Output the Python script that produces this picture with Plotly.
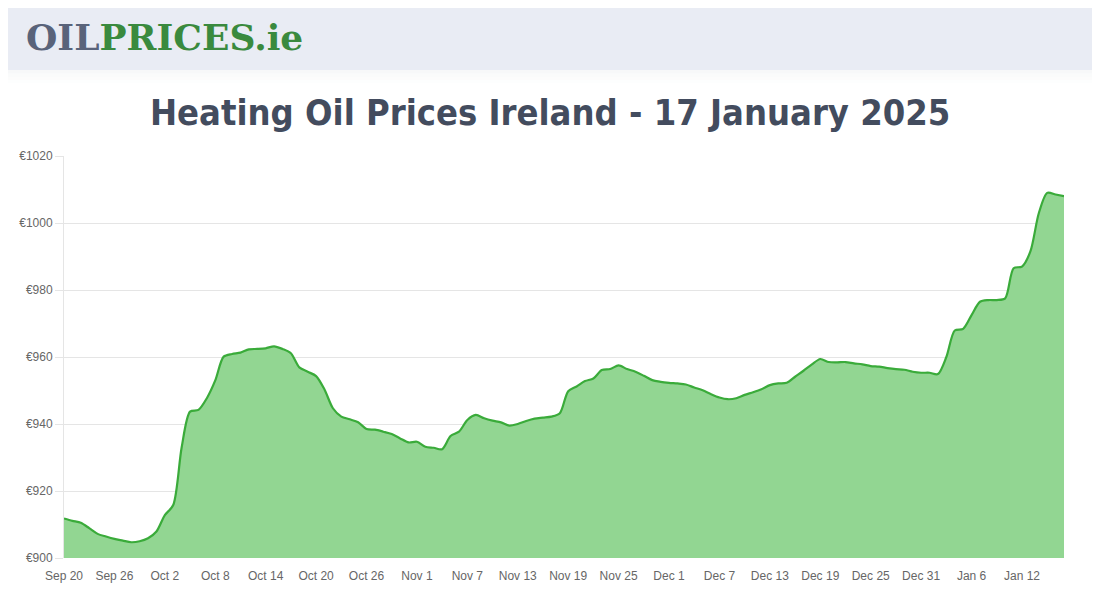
import pandas as pd
import plotly.graph_objects as go

# daily heating oil price (1000 litres), 20 Sep 2024 - 17 Jan 2025
prices = [
    911.8, 911.1, 910.5, 908.9, 907.2, 906.4, 905.7, 905.2, 904.7, 905.0,
    905.9, 907.9, 912.8, 915.8, 933.0, 943.7, 944.2, 947.7, 953.0, 960.1,
    960.9, 961.3, 962.3, 962.4, 962.6, 963.2, 962.4, 961.1, 956.9, 955.6,
    954.3, 950.3, 944.7, 942.2, 941.4, 940.5, 938.5, 938.3, 937.7, 937.0,
    935.7, 934.5, 934.7, 933.2, 932.9, 932.5, 936.4, 937.7, 941.2, 942.7,
    941.7, 941.0, 940.5, 939.5, 940.0, 940.9, 941.6, 941.9, 942.2, 943.2,
    949.8, 951.2, 952.8, 953.6, 956.1, 956.4, 957.5, 956.4, 955.6, 954.4,
    953.1, 952.6, 952.3, 952.1, 951.8, 950.9, 950.1, 948.9, 947.9, 947.4,
    947.7, 948.7, 949.5, 950.4, 951.6, 952.1, 952.3, 954.1, 955.9, 957.8,
    959.4, 958.5, 958.4, 958.5, 958.1, 957.8, 957.3, 957.1, 956.7, 956.4,
    956.2, 955.6, 955.3, 955.3, 954.9, 960.0, 967.9, 968.4, 972.5, 976.5,
    977.0, 977.0, 977.5, 986.5, 987.0, 991.5, 1002.9, 1009.0, 1008.5, 1008.0,
]
dates = pd.date_range("2024-09-20", periods=len(prices), freq="D")

title_text = "Heating Oil Prices Ireland - 17 January 2025"

fig = go.Figure(go.Scatter(
    x=dates, y=prices,
    mode="lines",
    line=dict(color="#3aab3a", width=2.2, shape="spline", smoothing=0.8),
    fill="tozeroy",
    fillcolor="#92d692",
    hoverinfo="x+y",
))

# header band + soft shadow under it
fig.add_shape(type="rect", xref="paper", yref="paper",
              x0=-0.07, x1=1.06, y0=1.2139, y1=1.40,
              fillcolor="#e9ecf4", line_width=0, layer="below")
for i, op in enumerate([0.04, 0.025, 0.015, 0.007]):
    fig.add_shape(type="rect", xref="paper", yref="paper",
                  x0=-0.07, x1=1.06, y0=1.2139 - (i + 1) * 0.008, y1=1.2139 - i * 0.008,
                  fillcolor="rgba(60,70,90,%s)" % op, line_width=0, layer="below")

fig.add_annotation(
    text="<b><span style='color:#59637a'>OIL</span><span style='color:#3a8a3e'>PRICES.ie</span></b>",
    xref="paper", yref="paper", x=-0.040, y=1.297,
    xanchor="left", yanchor="middle", showarrow=False,
    font=dict(family="'DejaVu Serif', serif", size=36),
)
fig.add_annotation(
    text="<b>" + title_text + "</b>",
    xref="paper", yref="paper", x=0.486, y=1.107,
    xanchor="center", yanchor="middle", showarrow=False,
    font=dict(family="'DejaVu Sans Condensed', 'Liberation Sans Narrow', Roboto, sans-serif",
              size=36, color="#434c5e"),
)

fig.update_layout(
    width=1100, height=600,
    margin=dict(l=56, r=44, t=148, b=50),
    paper_bgcolor="white", plot_bgcolor="white",
    showlegend=False,
    font=dict(family="'Liberation Sans', Arial, sans-serif", size=12, color="#666666"),
)
fig.update_xaxes(
    range=[dates[0], dates[-1]],
    tick0=dates[0], dtick=6 * 86400000, tickformat="%b %-d",
    showgrid=False, showline=False, zeroline=False, ticks="",
    ticklabelstandoff=9,
    tickfont=dict(size=12, color="#666666"),
)
fig.update_yaxes(
    range=[900, 1020], dtick=20, tickprefix="€",
    showgrid=True, gridcolor="#e5e5e5", gridwidth=1,
    showline=True, linecolor="#e5e5e5", linewidth=1,
    ticks="outside", ticklen=8, tickcolor="#e5e5e5",
    zeroline=False,
    tickfont=dict(size=12, color="#666666"),
)

fig.write_html("out.html")
